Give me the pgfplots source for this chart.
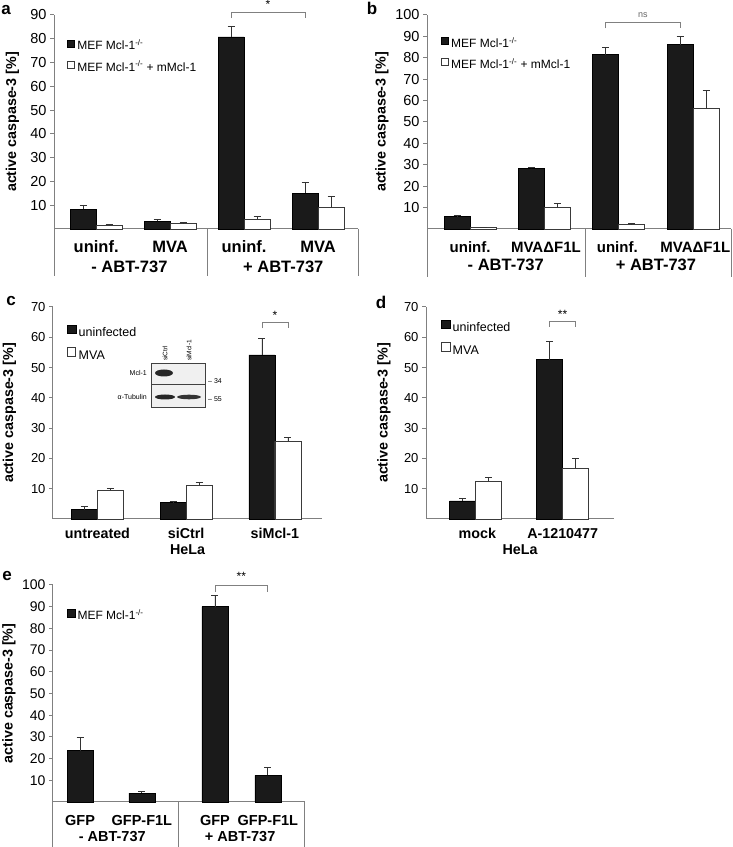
\documentclass[border=0pt]{standalone}
\usepackage{fontspec}
\setmainfont{Liberation Sans}
\usepackage{pgfplots}
\pgfplotsset{compat=1.18}

\definecolor{axgray}{HTML}{808080}
\definecolor{barblack}{HTML}{1A1A1A}
\definecolor{edgegray}{HTML}{3A3A3A}

\pgfplotsset{
  panel/.style={
    scale only axis, anchor=south west, clip=false,
    ymin=0, enlargelimits=false,
    axis x line*=bottom, axis y line*=left,
    axis line style={-, axgray, line width=1pt},
    tick align=outside, major tick length=4pt,
    ytick style={axgray, line width=1pt},
    xtick style={draw=none},
    /pgf/number format/assume math mode=true,
    ylabel={active caspase-3 [\%]},
    ylabel style={font=\bfseries\fontsize{14.3}{16}\selectfont, anchor=center},
    legend cell align=left,
    legend style={draw=none, fill=none, inner sep=0pt, outer sep=0pt,
      nodes={inner sep=0pt},
      /tikz/every odd column/.append style={column sep=2.5pt}},
  },
  blk/.style={ybar, bar width=26pt, bar shift=0pt, fill=barblack, draw=black,
    line width=0.6pt, forget plot,
    error bars/.cd, y dir=plus, y explicit,
    error bar style={line width=0.8pt, black!80},
    error mark options={rotate=90, line width=0.8pt, black!80, mark size=3.5pt}},
  wht/.style={ybar, bar width=26pt, bar shift=0pt, fill=white, draw=edgegray,
    line width=0.8pt, forget plot,
    error bars/.cd, y dir=plus, y explicit,
    error bar style={line width=0.8pt, black!80},
    error mark options={rotate=90, line width=0.8pt, black!80, mark size=3.5pt}},
  blkleg/.style={legend image code/.code={\draw[fill=barblack, draw=black] (0pt,0pt) rectangle (#1,#1);}},
  whtleg/.style={legend image code/.code={\draw[fill=white, draw=edgegray, line width=0.7pt] (0pt,0pt) rectangle (#1,#1);}},
}
\tikzset{
  brk/.style={draw=gray, line width=0.8pt},
  boxline/.style={draw=axgray, line width=1pt},
  catab/.style={font=\bfseries\fontsize{16.5}{17}\selectfont, anchor=base},
}

\begin{document}
\begin{tikzpicture}
\path[use as bounding box] (0pt,0pt) rectangle (732pt,847pt);

% ---------- a ----------
\begin{axis}[panel, at={(54pt,618pt)}, width=304pt, height=214pt,
  xmin=0.43, xmax=4.54, ymax=90, ytick={10,20,...,90},
  yticklabel style={font=\fontsize{14.5}{16}\selectfont},
  xtick={1,2,3,4}, xticklabels={uninf., MVA, uninf., MVA},
  xticklabel style={font=\bfseries\fontsize{16.5}{17}\selectfont, anchor=base, yshift=-20pt},
  ylabel style={at={(axis description cs:-0.1365,0.5)}},
  legend style={at={(axis description cs:0.043,0.885)}, anchor=north west,
    font=\fontsize{12}{12}\selectfont, nodes={text height=8.6pt, text depth=3pt}, row sep=8.4pt}]
\addlegendimage{blkleg=7pt}
\addlegendentry{MEF Mcl-1\textsuperscript{-/-}}
\addlegendimage{whtleg=7pt}
\addlegendentry{MEF Mcl-1\textsuperscript{-/-} + mMcl-1}
\addplot[blk] coordinates {(0.824,8.2) +- (0,1.9) (1.824,3.2) +- (0,0.9) (2.824,80.8) +- (0,4.2) (3.824,15.1) +- (0,4.5)};
\addplot[wht] coordinates {(1.176,1.5) +- (0,0.5) (2.176,2.3) +- (0,0.5) (3.176,4.2) +- (0,1.0) (4.176,9.0) +- (0,4.5)};
\draw[boxline] (rel axis cs:0,0) -- ++(0pt,-47pt);
\draw[boxline] (rel axis cs:1,0) -- ++(0pt,-47pt);
\draw[boxline] (axis cs:2.5,0) -- ++(0pt,-47pt);
\node[catab] at ([yshift=-43.4pt]axis cs:1.45,0) {- ABT-737};
\node[catab] at ([yshift=-43.4pt]axis cs:3.53,0) {+ ABT-737};
\draw[brk] (axis cs:2.824,88.7) |- (axis cs:3.824,91.1) -- (axis cs:3.824,88.7);
\node[font=\fontsize{12}{12}\selectfont] at (axis cs:3.324,94.5) {*};
\end{axis}

% ---------- b ----------
\begin{axis}[panel, at={(427pt,618pt)}, width=304pt, height=214pt,
  xmin=0.42, xmax=4.51, ymax=100, ytick={10,20,...,100},
  yticklabel style={font=\fontsize{14.5}{16}\selectfont},
  xtick={1,2.02,2.98,4.03}, xticklabels={uninf., MVAΔF1L, uninf., MVAΔF1L},
  xticklabel style={font=\bfseries\fontsize{15}{16}\selectfont, anchor=base, yshift=-19.5pt},
  ylabel style={at={(axis description cs:-0.148,0.5)}},
  legend style={at={(axis description cs:0.046,0.895)}, anchor=north west,
    font=\fontsize{12}{12}\selectfont, nodes={text height=8.6pt, text depth=3pt}, row sep=8pt}]
\addlegendimage{blkleg=7pt}
\addlegendentry{MEF Mcl-1\textsuperscript{-/-}}
\addlegendimage{whtleg=7pt}
\addlegendentry{MEF Mcl-1\textsuperscript{-/-} + mMcl-1}
\addplot[blk] coordinates {(0.825,5.8) +- (0,0.6) (1.825,28.3) +- (0,0.5) (2.825,81.5) +- (0,3.2) (3.825,86.2) +- (0,3.6)};
\addplot[wht] coordinates {(1.175,0.6) +- (0,0.2) (2.175,10.0) +- (0,2.1) (3.175,2.0) +- (0,0.5) (4.175,56.2) +- (0,8.6)};
\draw[boxline] (rel axis cs:0,0) -- ++(0pt,-48pt);
\draw[boxline] (rel axis cs:1,0) -- ++(0pt,-48pt);
\draw[boxline] (axis cs:2.55,0) -- ++(0pt,-48pt);
\node[catab] at ([yshift=-42pt]axis cs:1.48,0) {- ABT-737};
\node[catab] at ([yshift=-42pt]axis cs:3.5,0) {+ ABT-737};
\draw[brk] (axis cs:2.825,93.8) |- (axis cs:3.825,96.6) -- (axis cs:3.825,93.8);
\node[font=\fontsize{9}{9}\selectfont, text=gray!80!black] at (axis cs:3.325,100) {ns};
\end{axis}

% ---------- c ----------
\begin{axis}[panel, at={(53pt,328pt)}, width=269pt, height=212pt,
  xmin=0.5, xmax=3.53, ymax=70, ytick={10,20,...,70},
  yticklabel style={font=\fontsize{13}{15}\selectfont},
  xtick={1,2,3}, xticklabels={untreated, siCtrl, siMcl-1},
  xticklabel style={font=\bfseries\fontsize{14.3}{16}\selectfont, anchor=base, yshift=-16pt},
  xlabel={HeLa}, xlabel style={at={(axis description cs:0.5,0)}, anchor=base, yshift=-36pt,
    font=\bfseries\fontsize{14.3}{16}\selectfont},
  ylabel style={at={(axis description cs:-0.1617,0.5)}},
  legend style={at={(axis description cs:0.052,0.917)}, anchor=north west,
    font=\fontsize{12.5}{12.5}\selectfont, nodes={text height=9pt, text depth=3pt}, row sep=8pt}]
\addlegendimage{blkleg=8.5pt}
\addlegendentry{uninfected}
\addlegendimage{whtleg=8.5pt}
\addlegendentry{MVA}
\addplot[blk] coordinates {(0.854,3.1) +- (0,1.1) (1.854,5.4) +- (0,0.4) (2.854,54.2) +- (0,5.3)};
\addplot[wht] coordinates {(1.146,9.5) +- (0,0.5) (2.146,11.1) +- (0,1.0) (3.146,25.6) +- (0,1.3)};
\draw[brk] (axis cs:2.854,62.9) |- (axis cs:3.146,64.8) -- (axis cs:3.146,62.9);
\node[font=\fontsize{12}{12}\selectfont] at (axis cs:3,67.2) {*};
\end{axis}

% ---------- d ----------
\begin{axis}[panel, at={(426pt,328pt)}, width=188pt, height=212pt,
  xmin=0.43, xmax=2.59, ymax=70, ytick={10,20,...,70},
  yticklabel style={font=\fontsize{13}{15}\selectfont},
  xtick={1.02,2.0}, xticklabels={mock, A-1210477},
  xticklabel style={font=\bfseries\fontsize{14.3}{16}\selectfont, anchor=base, yshift=-16pt},
  xlabel={HeLa}, xlabel style={at={(axis description cs:0.5,0)}, anchor=base, yshift=-36pt,
    font=\bfseries\fontsize{14.3}{16}\selectfont},
  ylabel style={at={(axis description cs:-0.2234,0.5)}},
  legend style={at={(axis description cs:0.08,0.941)}, anchor=north west,
    font=\fontsize{12.5}{12.5}\selectfont, nodes={text height=9pt, text depth=3pt}, row sep=8pt}]
\addlegendimage{blkleg=8.5pt}
\addlegendentry{uninfected}
\addlegendimage{whtleg=8.5pt}
\addlegendentry{MVA}
\addplot[blk] coordinates {(0.851,6.0) +- (0,0.8) (1.851,52.6) +- (0,6.1)};
\addplot[wht] coordinates {(1.149,12.4) +- (0,1.2) (2.149,16.8) +- (0,3.3)};
\draw[brk] (axis cs:1.851,63.4) |- (axis cs:2.149,65.1) -- (axis cs:2.149,63.4);
\node[font=\fontsize{12}{12}\selectfont] at (axis cs:2,67.6) {**};
\end{axis}

% ---------- e ----------
\begin{axis}[panel, at={(53pt,45pt)}, width=252pt, height=217pt,
  xmin=0.5, xmax=4.5, ymax=100, ytick={10,20,...,100},
  yticklabel style={font=\fontsize{14}{16}\selectfont},
  xtick=data, xticklabels={GFP, GFP-F1L, GFP, GFP-F1L},
  xticklabel style={font=\bfseries\fontsize{14.5}{16}\selectfont, anchor=base, yshift=-20pt},
  ylabel style={at={(axis description cs:-0.1746,0.5)}},
  legend style={at={(axis description cs:0.056,0.889)}, anchor=north west,
    font=\fontsize{12}{12}\selectfont, nodes={text height=8.6pt, text depth=3pt}}]
\addlegendimage{blkleg=7.5pt}
\addlegendentry{MEF Mcl-1\textsuperscript{-/-}}
\addplot[blk] coordinates {(0.93,23.6) +- (0,6.3) (1.91,4.1) +- (0,0.7) (3.07,90.0) +- (0,5.1) (3.91,12.3) +- (0,3.7)};
\draw[boxline] (rel axis cs:0,0) -- ++(0pt,-46pt);
\draw[boxline] (rel axis cs:1,0) -- ++(0pt,-46pt);
\draw[boxline] (axis cs:2.5,0) -- ++(0pt,-46pt);
\node[font=\bfseries\fontsize{14.5}{16}\selectfont, anchor=base] at ([yshift=-40pt]axis cs:1.44,0) {- ABT-737};
\node[font=\bfseries\fontsize{14.5}{16}\selectfont, anchor=base] at ([yshift=-40pt]axis cs:3.47,0) {+ ABT-737};
\draw[brk] (axis cs:3.07,96.7) |- (axis cs:3.91,100) -- (axis cs:3.91,96.7);
\node[font=\fontsize{12}{12}\selectfont] at (axis cs:3.49,104) {**};
\end{axis}

% ---------- inset blot in c ----------
\fill[gray!12] (151pt,463pt) rectangle (205pt,484pt);
\fill[gray!12] (151pt,440pt) rectangle (205pt,463pt);
\fill[black!85] (164pt,474pt) ellipse (9pt and 3.5pt);
\fill[black!85] (165pt,450pt) ellipse (10pt and 2.5pt);
\fill[black!80] (189pt,450pt) ellipse (12pt and 2.3pt);
\draw[black!75, line width=0.8pt] (151pt,463pt) rectangle (205pt,484pt);
\draw[black!75, line width=0.8pt] (151pt,440pt) rectangle (205pt,463pt);
\node[font=\fontsize{7}{7}\selectfont, anchor=east, inner sep=0pt] at (147pt,474pt) {Mcl-1};
\node[font=\fontsize{7}{7}\selectfont, anchor=east, inner sep=0pt] at (147pt,450pt) {α-Tubulin};
\node[font=\fontsize{7}{7}\selectfont, anchor=west, inner sep=0pt] at (208pt,466pt) {– 34};
\node[font=\fontsize{7}{7}\selectfont, anchor=west, inner sep=0pt] at (208pt,448pt) {– 55};
\node[font=\fontsize{6.5}{6.5}\selectfont, anchor=west, rotate=90, inner sep=0pt] at (165pt,486pt) {siCtrl};
\node[font=\fontsize{6.5}{6.5}\selectfont, anchor=west, rotate=90, inner sep=0pt] at (189pt,486pt) {siMcl-1};

% ---------- panel letters ----------
\node[font=\bfseries\fontsize{17}{17}\selectfont] at (6pt,837pt) {a};
\node[font=\bfseries\fontsize{17}{17}\selectfont] at (372pt,839pt) {b};
\node[font=\bfseries\fontsize{17}{17}\selectfont] at (11pt,546pt) {c};
\node[font=\bfseries\fontsize{17}{17}\selectfont] at (381pt,545pt) {d};
\node[font=\bfseries\fontsize{17}{17}\selectfont] at (7pt,271pt) {e};
\end{tikzpicture}
\end{document}
